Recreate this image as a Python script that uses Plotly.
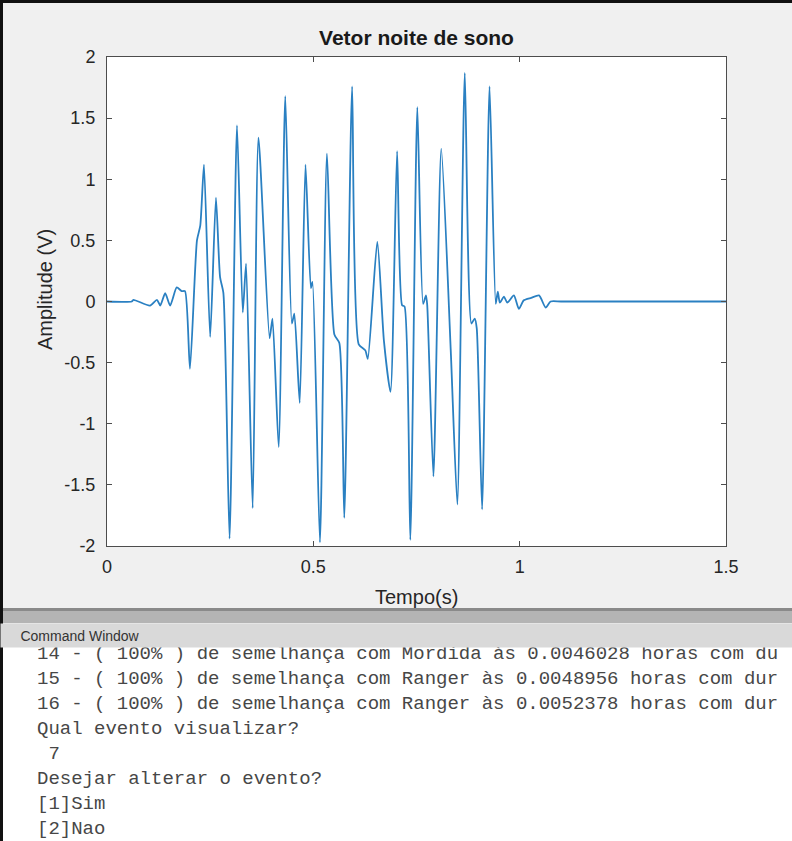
import plotly.graph_objects as go

# ---------------- data ----------------
tempo_s = [0.000, 0.060, 0.064, 0.104, 0.121, 0.129, 0.141, 0.153, 0.169, 0.181,
           0.189, 0.201, 0.218, 0.226, 0.235, 0.250, 0.264, 0.274, 0.282, 0.297,
           0.315, 0.329, 0.337, 0.353, 0.367, 0.394, 0.401, 0.416, 0.432, 0.448,
           0.454, 0.467, 0.481, 0.494, 0.498, 0.516, 0.533, 0.551, 0.563, 0.575,
           0.594, 0.610, 0.626, 0.632, 0.655, 0.671, 0.687, 0.703, 0.715, 0.721,
           0.735, 0.752, 0.766, 0.773, 0.776, 0.791, 0.810, 0.833, 0.849, 0.867,
           0.883, 0.891, 0.896, 0.909, 0.927, 0.942, 0.947, 0.952, 0.962, 0.970,
           0.986, 0.998, 1.010, 1.028, 1.047, 1.063, 1.075, 1.100, 1.500]
amplitude_v = [0, 0, 0.014, -0.033, 0.014, -0.033, 0.068, -0.033, 0.115, 0.085,
               0.085, -0.55, 0.50, 0.62, 1.12, -0.29, 0.85, 0.20, 0.07, -1.94,
               1.44, -0.09, 0.31, -1.69, 1.34, -0.30, -0.14, -1.19, 1.68, -0.18,
               -0.10, -0.83, 1.12, 0.11, 0.16, -1.97, 1.21, -0.27, -0.34, -1.77,
               1.76, -0.35, -0.40, -0.47, 0.49, -0.32, -0.74, 1.23, -0.03, -0.04,
               -1.95, 1.59, -0.02, 0.05, -0.03, -1.43, 1.25, -0.40, -1.66, 1.87,
               -0.18, -0.14, -0.22, -1.70, 1.76, -0.02, 0.08, -0.01, 0.04, -0.01,
               0.05, -0.06, 0.01, 0.03, 0.05, -0.05, 0, 0, 0]

x_ticks = [0, 0.5, 1, 1.5]
x_tick_labels = ["0", "0.5", "1", "1.5"]
y_ticks = [-2, -1.5, -1, -0.5, 0, 0.5, 1, 1.5, 2]
y_tick_labels = ["-2", "-1.5", "-1", "-0.5", "0", "0.5", "1", "1.5", "2"]

console_lines = [
    "14 - ( 100% ) de semelhança com Mordida às 0.0046028 horas com du",
    "15 - ( 100% ) de semelhança com Ranger às 0.0048956 horas com dur",
    "16 - ( 100% ) de semelhança com Ranger às 0.0052378 horas com dur",
    "Qual evento visualizar?",
    " 7",
    "Desejar alterar o evento?",
    "[1]Sim",
    "[2]Nao",
]

# ---------------- layout helpers ----------------
W, H = 792, 841


def px(x):
    return x / W


def py(y):
    return 1 - y / H


PLOT_L, PLOT_R, PLOT_T, PLOT_B = 107, 726, 57, 546
SANS = "Liberation Sans, Arial, sans-serif"

fig = go.Figure()
fig.add_trace(go.Scatter(
    x=tempo_s, y=amplitude_v, mode="lines",
    line=dict(color="#2a80c2", width=1.8, shape="spline", smoothing=0.6),
    showlegend=False, hoverinfo="skip",
))

axis_common = dict(
    showline=True, linecolor="#4d4d4d", linewidth=1, mirror="ticks",
    ticks="inside", ticklen=5, tickcolor="#4d4d4d", showgrid=False,
    zeroline=False, automargin=False,
    tickfont=dict(family=SANS, size=18, color="#262626"),
)

fig.update_xaxes(range=[0, 1.5], tickvals=x_ticks, ticktext=x_tick_labels,
                 domain=[px(PLOT_L), px(PLOT_R)], ticklabelstandoff=4, **axis_common)
fig.update_yaxes(range=[-2, 2], tickvals=y_ticks, ticktext=y_tick_labels,
                 domain=[py(PLOT_B), py(PLOT_T)], ticklabelstandoff=7, **axis_common)

shapes = []
# console white area
shapes.append(dict(type="rect", xref="paper", yref="paper", x0=px(0), x1=px(W),
                   y0=py(H), y1=py(646), fillcolor="white", line_width=0, layer="below"))
# separator bar
shapes.append(dict(type="rect", xref="paper", yref="paper", x0=px(0), x1=px(W),
                   y0=py(623), y1=py(609), fillcolor="#b4b4b4", line_width=0, layer="below"))
shapes.append(dict(type="rect", xref="paper", yref="paper", x0=px(0), x1=px(W),
                   y0=py(611), y1=py(608), fillcolor="#8a8a8a", line_width=0, layer="below"))
# window borders
shapes.append(dict(type="rect", xref="paper", yref="paper", x0=px(0), x1=px(3),
                   y0=py(H), y1=py(0), fillcolor="#111111", line_width=0, layer="above"))
shapes.append(dict(type="rect", xref="paper", yref="paper", x0=px(0), x1=px(W),
                   y0=py(3), y1=py(0), fillcolor="#111111", line_width=0, layer="above"))

annotations = []
# axis titles
annotations.append(dict(text="Tempo(s)", x=px((PLOT_L + PLOT_R) / 2), y=py(597),
                        xref="paper", yref="paper", showarrow=False,
                        font=dict(family=SANS, size=20, color="#262626"),
                        xanchor="center", yanchor="middle"))
annotations.append(dict(text="Amplitude (V)", x=px(45), y=py(290),
                        xref="paper", yref="paper", showarrow=False, textangle=-90,
                        font=dict(family=SANS, size=20, color="#262626"),
                        xanchor="center", yanchor="middle"))
# console lines
line_y0 = 654
line_step = 25.0
for i, txt in enumerate(console_lines):
    annotations.append(dict(text=txt.replace(" ", "&nbsp;"), x=px(35), y=py(line_y0 + i * line_step),
                            xref="paper", yref="paper", showarrow=False,
                            xanchor="left", yanchor="middle",
                            font=dict(family="Liberation Mono, Courier New, monospace",
                                      size=19, color="#474747")))
# Command Window header (drawn last so it hides top of first console line)
annotations.append(dict(text="&nbsp;&nbsp;&nbsp;&nbsp;&nbsp;Command Window", x=px(0), y=py(623),
                        xref="paper", yref="paper", showarrow=False,
                        xanchor="left", yanchor="top", align="left",
                        width=W, height=23, bgcolor="#d9d9d9", borderpad=0,
                        font=dict(family=SANS, size=14, color="#333333")))

fig.update_layout(
    width=W, height=H, autosize=False,
    margin=dict(l=0, r=0, t=0, b=0, pad=0, autoexpand=False),
    paper_bgcolor="#f0f0f0", plot_bgcolor="white",
    title=dict(text="<b>Vetor noite de sono</b>", x=px((PLOT_L + PLOT_R) / 2), y=py(38),
               xanchor="center", yanchor="middle", xref="paper", yref="container",
               automargin=False,
               font=dict(family=SANS, size=21, color="#1a1a1a")),
    shapes=shapes, annotations=annotations,
)

fig.write_html(
    "out.html",
    config={"displayModeBar": False, "responsive": False},
    post_script="document.body.style.margin='0px';document.body.style.overflow='hidden';",
)
